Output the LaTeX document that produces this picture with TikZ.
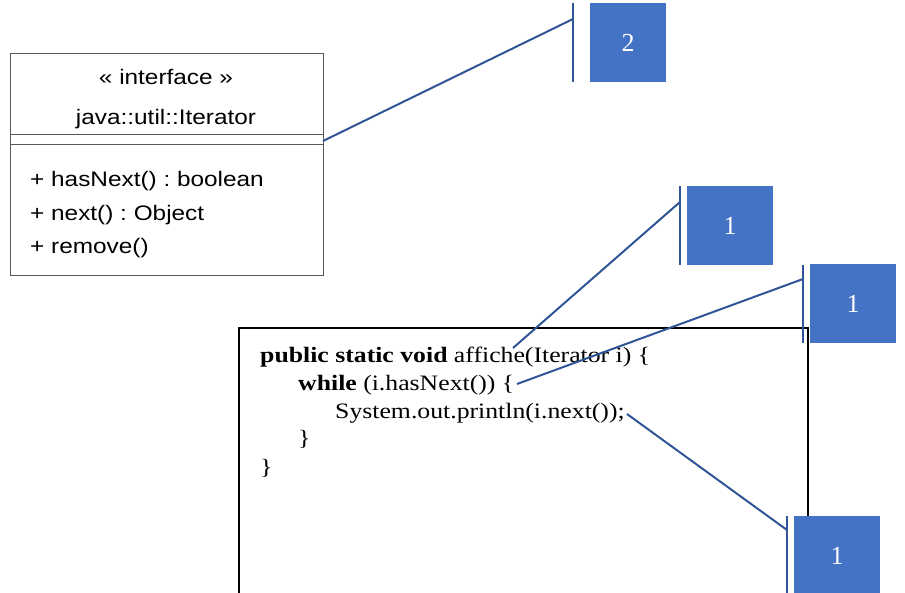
\documentclass[tikz,border=0pt]{standalone}
\usepackage{fontspec}
\setmainfont{Liberation Serif}
\newfontfamily\codefont[FakeStretch=1.17]{Liberation Serif}
\newfontfamily\umlfont[FakeStretch=1.16]{Liberation Sans}
\definecolor{calloutblue}{HTML}{4472C4}
\definecolor{leaderblue}{HTML}{2F5597}
\begin{document}
\frenchspacing
\begin{tikzpicture}[x=1pt,y=-1pt,
  umltext/.style={font=\umlfont\fontsize{21}{24}\selectfont, inner sep=0pt},
  codetext/.style={font=\codefont\fontsize{22}{26}\selectfont, anchor=base west, inner sep=0pt},
  numbox/.style={fill=calloutblue, draw=none, minimum width=86pt, minimum height=79pt, inner sep=0pt,
    text=white, font=\fontsize{26}{30}\selectfont},
  bar/.style={draw=leaderblue, line width=2pt},
  leader/.style={draw=leaderblue, line width=2pt}]
\useasboundingbox (0,0) rectangle (905,593);
% UML class box
\draw[gray!70!black, line width=1pt] (10,54) rectangle (323,276);
\draw[gray!70!black, line width=1pt] (10,135) -- (323,135) (10,145) -- (323,145);
\node[umltext, anchor=base] (stereo) at (166,85) {« interface »};
\node[umltext, anchor=base] (cname) at (166,125) {java::util::Iterator};
\node[umltext, anchor=base west] (m1) at (30,187) {+ hasNext() : boolean};
\node[umltext, anchor=base west] (m2) at (30,221) {+ next() : Object};
\node[umltext, anchor=base west] (m3) at (30,254) {+ remove()};
\coordinate (umlside) at (323,141);
% code box (open at bottom)
\draw[black, line width=2pt] (239,600) -- (239,328) -- (808,328) -- (808,600);
\node[codetext] (c1) at (260,363) {\textbf{public static void} affiche(Iterator i) \{};
\node[codetext] (c2) at (298,391) {\textbf{while} (i.hasNext()) \{};
\node[codetext] (c3) at (335,419) {System.out.println(i.next());};
\node[codetext] (c4) at (298,446) {\}};
\node[codetext] (c5) at (260,474) {\}};
\coordinate (affE) at (513,348);
\coordinate (whileE) at (517,384);
\coordinate (printE) at (627,414);
% callout 2
\node[numbox, minimum width=76pt, anchor=north west] (n2) at (590,3) {2};
\draw[bar] (573,3) -- (573,82);
\coordinate (t2) at (573,19);
\draw[leader] (umlside) -- (t2);
% callout 1 top
\node[numbox, anchor=north west] (n1a) at (687,186) {1};
\draw[bar] (680,186) -- (680,265);
\coordinate (t1a) at (680,202);
\draw[leader] (affE) -- (t1a);
% callout 1 middle
\node[numbox, anchor=north west] (n1b) at (810,264) {1};
\draw[bar] (803,265) -- (803,343);
\coordinate (t1b) at (803,279);
\draw[leader] (whileE) -- (t1b);
% callout 1 bottom
\node[numbox, anchor=north west] (n1c) at (794,516) {1};
\draw[bar] (787,516) -- (787,600);
\coordinate (t1c) at (787,530);
\draw[leader] (printE) -- (t1c);
\end{tikzpicture}
\end{document}
